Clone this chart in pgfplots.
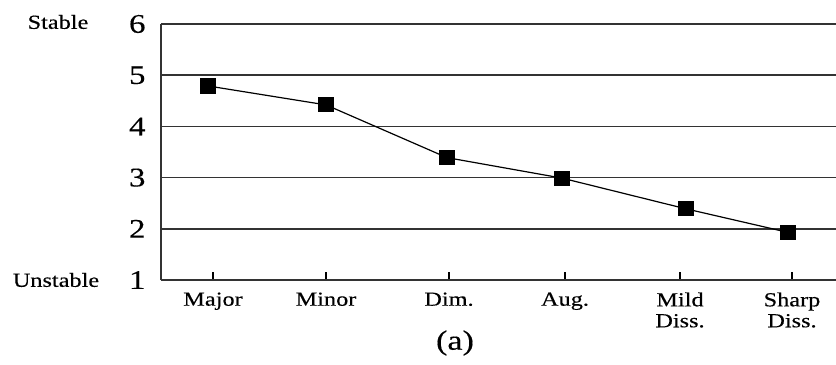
\documentclass[border=0pt]{standalone}
\usepackage{pgfplots}
\pgfplotsset{compat=1.18}
\usepackage{fontspec}
\setmainfont[FakeStretch=1.22, FakeBold=0.3]{Liberation Serif}
\begin{document}
\begin{tikzpicture}
\begin{axis}[
  scale only axis,
  width=675bp, height=256bp,
  xmin=0, xmax=675, ymin=1, ymax=6,
  axis lines=left,
  axis line style={-, line width=1.8bp, black!80},
  xtick={52,165,288,404,519,631},
  xticklabels={Major, Minor, Dim., Aug., {Mild\\Diss.}, {Sharp\\Diss.}},
  xticklabel style={align=center, font=\fontsize{20}{21}\selectfont, yshift=-9bp},
  x tick style={line width=1.3bp, black},
  xtick align=inside,
  major tick length=8bp,
  ytick={1,2,3,4,5,6},
  y tick style={draw=none},
  yticklabel style={font=\fontsize{27}{27}\selectfont, xshift=-8bp},
  /pgf/number format/assume math mode=true,
  ymajorgrids,
  grid style={line width=1.7bp, black!80},
  clip=false,
]
\addplot[black, line width=1.2bp, mark=square*, mark size=7bp, mark options={solid}]
coordinates {(47,4.79) (165,4.42) (286,3.39) (401,2.99) (525,2.39) (627,1.93)};
\node[anchor=center, font=\fontsize{20}{21}\selectfont] at ([xshift=-103bp,yshift=2bp]axis cs:0,6) {Stable};
\node[anchor=center, font=\fontsize{20}{21}\selectfont] at ([xshift=-105bp]axis cs:0,1) {Unstable};
\node[anchor=center, font=\fontsize{28}{28}\selectfont] at ([xshift=4bp,yshift=-63bp]axis cs:290,1) {(a)};
\end{axis}
\pgfresetboundingbox
\path ([xshift=-161bp,yshift=-85bp]current axis.south west) rectangle ([yshift=24bp]current axis.north east);
\end{tikzpicture}
\end{document}
